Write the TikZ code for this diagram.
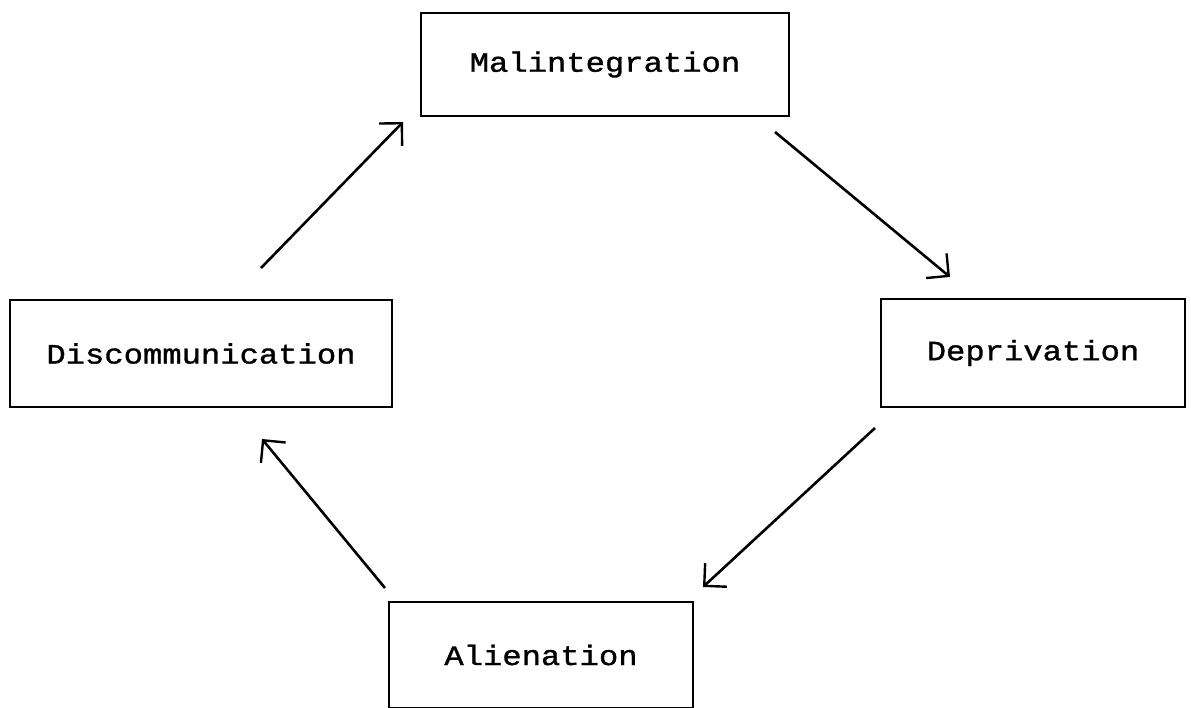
\documentclass[tikz,border=0pt]{standalone}
\usepackage{fontspec}
\newfontfamily\twfont[FakeStretch=1.15,FakeBold=1.2]{Liberation Mono}
\usetikzlibrary{arrows.meta}
\begin{document}
\begin{tikzpicture}[x=1pt,y=-1pt,
  box/.style={draw, line width=2.2pt, inner sep=0pt, font=\twfont\fontsize{28}{30}\selectfont},
  flow/.style={line width=2.6pt, -{Straight Barb[length=16pt,width=32pt,line width=2.4pt]}}]
\useasboundingbox (0,0) rectangle (1191,708);
\node[box, minimum width=368pt, minimum height=103pt] (mal) at (605,64.5) {Malintegration};
\node[box, minimum width=382pt, minimum height=107pt] (dis) at (201,353.5) {Discommunication};
\node[box, minimum width=304pt, minimum height=108pt] (dep) at (1033,353) {Deprivation};
\node[box, minimum width=304pt, minimum height=106pt] (ali) at (541,655) {Alienation};
\coordinate (a1s) at (261,268);
\coordinate (a1e) at (403,122);
\coordinate (a2s) at (775,132);
\coordinate (a2e) at (950,277);
\coordinate (a3s) at (875,428);
\coordinate (a3e) at (703,587);
\coordinate (a4s) at (385,588);
\coordinate (a4e) at (262,439);
\draw[flow] (a1s) -- (a1e);
\draw[flow] (a2s) -- (a2e);
\draw[flow] (a3s) -- (a3e);
\draw[flow] (a4s) -- (a4e);
\end{tikzpicture}
\end{document}
